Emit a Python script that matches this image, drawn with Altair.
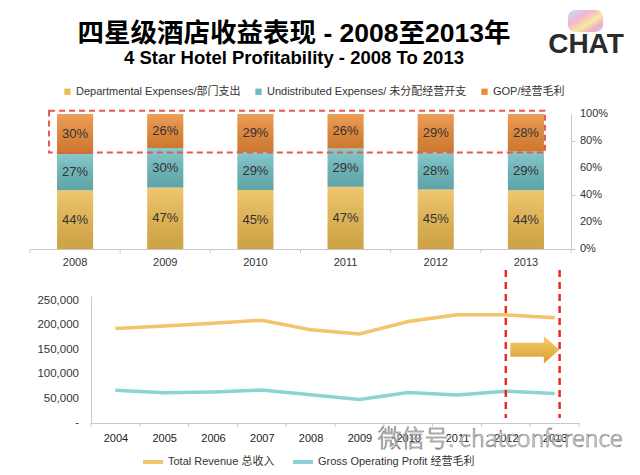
import altair as alt
import pandas as pd

FONT = "Liberation Sans, Noto Sans CJK SC, sans-serif"

# ---------------- data ----------------
title_main = "四星级酒店收益表现 - 2008至2013年"
title_sub = "4 Star Hotel Profitability - 2008 To 2013"
logo_text = "CHAT"
watermark_text = "微信号: chatconference"

years_top = ["2008", "2009", "2010", "2011", "2012", "2013"]
dept_pct = [44, 47, 45, 47, 45, 44]
undist_pct = [27, 30, 29, 29, 28, 29]
gop_pct = [30, 26, 29, 26, 29, 28]
series_top = ["Departmental Expenses/部门支出", "Undistributed Expenses/ 未分配经营开支", "GOP/经营毛利"]
colors_top = ["#EDBB50", "#6DBDC1", "#EC8A36"]

years_line = ["2004", "2005", "2006", "2007", "2008", "2009", "2010", "2011", "2012", "2013"]
revenue = [193500, 198700, 204000, 210400, 191000, 182400, 207800, 221500, 221500, 215700]
gop_value = [67000, 61700, 63700, 67600, 57800, 48000, 62400, 57200, 65000, 60400]
series_line = ["Total Revenue 总收入", "Gross Operating Profit 经营毛利"]
colors_line = ["#F2C46B", "#8CD3D5"]
y_ticks_line = [0, 50000, 100000, 150000, 200000, 250000]
y_ticks_top = [0, 0.2, 0.4, 0.6, 0.8, 1.0]

rows = []
for i, yr in enumerate(years_top):
    for k, vals in enumerate([dept_pct, undist_pct, gop_pct]):
        rows.append({"year": yr, "series": series_top[k], "order": k,
                     "value": vals[i], "label": f"{vals[i]}%"})
df_top = pd.DataFrame(rows)

rows = []
for k, vals in enumerate([revenue, gop_value]):
    for i, yr in enumerate(years_line):
        rows.append({"year": yr, "series": series_line[k], "value": vals[i]})
df_line = pd.DataFrame(rows)

df_years_top = pd.DataFrame({"year": years_top})
df_years_line = pd.DataFrame({"year": years_line})
df_box = pd.DataFrame({"a": [years_top[0]], "b": [years_top[-1]]})
df_ticks_top = pd.DataFrame({"v": y_ticks_top})
df_ticks_line = pd.DataFrame({"v": y_ticks_line})

TOP_W, TOP_H = 541, 135
BOT_LEFT = 61          # inner left margin of the lower panel
BOT_W, BOT_H = BOT_LEFT + 488, 127
step_top = TOP_W / len(years_top)
step_bot = (BOT_W - BOT_LEFT) / len(years_line)
half_bar = step_top * 0.4 / 2

# ---------------- top chart ----------------
base = alt.Chart(df_top).transform_stack(
    stack="value", groupby=["year"], as_=["y0", "y1"], offset="normalize",
    sort=[alt.SortField("order", order="ascending")]
).transform_calculate(mid="(datum.y0 + datum.y1) / 2")

x_top = alt.X("year:N", scale=alt.Scale(domain=years_top, paddingInner=0.6, paddingOuter=0.3),
              axis=alt.Axis(title=None, labelAngle=0, ticks=False, labelFontSize=11,
                            labelColor="#333", labelPadding=7, domainColor="#c8c8c8",
                            labelFont=FONT))
y_top = alt.Y("y0:Q", scale=alt.Scale(domain=[0, 1]),
              axis=alt.Axis(orient="right", values=y_ticks_top, labels=False, title=None,
                            grid=False, tickSize=4, tickColor="#c8c8c8", domainColor="#c8c8c8"))

bars = base.mark_bar().encode(
    x=x_top, y=y_top, y2="y1:Q",
    color=alt.Color("series:N", scale=alt.Scale(domain=series_top, range=colors_top),
                    legend=alt.Legend(title=None, orient="none", legendX=32, legendY=-28,
                                      direction="horizontal", symbolType="square",
                                      symbolSize=40, labelFontSize=11, labelFont=FONT,
                                      labelColor="#333", columnPadding=12, labelOffset=3,
                                      labelLimit=400)),
    order=alt.Order("order:Q"),
)

shade = alt.Gradient(gradient="linear", x1=0, y1=0, x2=0, y2=1, stops=[
    alt.GradientStop(color="rgba(255,255,255,0.18)", offset=0),
    alt.GradientStop(color="rgba(0,0,0,0.13)", offset=1),
])
overlay = base.mark_bar(color=shade).encode(x="year:N", y="y0:Q", y2="y1:Q")

labels = base.mark_text(fontSize=13, color="#333", font=FONT).encode(
    x="year:N", y="mid:Q", text="label:N")

top_ylabels = alt.Chart(df_ticks_top).mark_text(
    align="left", fontSize=11, color="#333", font=FONT).encode(
    x=alt.value(TOP_W + 9), y="v:Q", text=alt.Text("v:Q", format=".0%"))

box = alt.Chart(df_box).mark_rect(fillOpacity=0, stroke="#E25B4F", strokeWidth=2,
                                  strokeDash=[6, 4], xOffset=-(half_bar + 8),
                                  x2Offset=half_bar + 1).encode(
    x=alt.X("a:N", bandPosition=0.5), x2="b:N",
    y=alt.datum(0.714), y2=alt.datum(1.025))

ticks_top = alt.Chart(df_years_top).mark_rule(color="#c8c8c8", xOffset=-step_top / 2).encode(
    x="year:N", y=alt.value(TOP_H), y2=alt.value(TOP_H + 4))
ticks_top_end = alt.Chart(df_years_top).transform_filter(
    alt.datum.year == years_top[-1]).mark_rule(color="#c8c8c8", xOffset=step_top / 2).encode(
    x="year:N", y=alt.value(TOP_H), y2=alt.value(TOP_H + 4))

t1 = alt.Chart(pd.DataFrame({"t": [title_main]})).mark_text(
    fontSize=26.5, fontWeight="bold", font=FONT, color="#000", align="center").encode(
    x=alt.value(264), y=alt.value(-80), text="t:N")
t2 = alt.Chart(pd.DataFrame({"t": [title_sub]})).mark_text(
    fontSize=18.5, fontWeight="bold", font=FONT, color="#000", align="center").encode(
    x=alt.value(264), y=alt.value(-56), text="t:N")
bubble_grad = alt.Gradient(gradient="linear", x1=0, y1=0, x2=1, y2=1, stops=[
    alt.GradientStop(color="#9fdde3", offset=0),
    alt.GradientStop(color="#f39cc6", offset=0.35),
    alt.GradientStop(color="#f6e27a", offset=0.6),
    alt.GradientStop(color="#e98fc0", offset=0.8),
    alt.GradientStop(color="#a8d8e6", offset=1),
])
bubble = alt.Chart(pd.DataFrame({"t": [logo_text]})).mark_rect(
    color=bubble_grad, cornerRadius=7, opacity=0.75).encode(
    x=alt.value(538), x2=alt.value(573), y=alt.value(-104), y2=alt.value(-82))
chat = alt.Chart(pd.DataFrame({"t": [logo_text]})).mark_text(
    fontSize=28, fontWeight="bold", font=FONT, color="#2b2b2b", align="center").encode(
    x=alt.value(556), y=alt.value(-69), text="t:N")

top = alt.layer(bars, overlay, labels, top_ylabels, box, ticks_top, ticks_top_end,
                t1, t2, bubble, chat).properties(width=TOP_W, height=TOP_H)

# ---------------- bottom chart ----------------
x_bot = alt.X("year:N", scale=alt.Scale(type="point", domain=years_line, padding=0.5,
                                        range=[BOT_LEFT, BOT_W]),
              axis=alt.Axis(title=None, labelAngle=0, ticks=False, labelFontSize=11,
                            labelColor="#222", labelPadding=9, domainColor="#c8c8c8",
                            labelFont=FONT))
y_bot = alt.Y("value:Q", scale=alt.Scale(domain=[0, 250000]),
              axis=alt.Axis(title=None, values=y_ticks_line, offset=-BOT_LEFT, labels=False,
                            grid=False, ticks=False, domainColor="#c8c8c8"))

lines = alt.Chart(df_line).mark_line(strokeWidth=3.5).encode(
    x=x_bot, y=y_bot,
    stroke=alt.Stroke("series:N", scale=alt.Scale(domain=series_line, range=colors_line),
                      legend=alt.Legend(title=None, orient="none", legendX=BOT_LEFT + 50,
                                        legendY=154,
                                        direction="horizontal", symbolType="stroke",
                                        symbolSize=400, symbolStrokeWidth=4, labelFontSize=11,
                                        labelFont=FONT, labelColor="#333", columnPadding=10,
                                        labelOffset=3, labelLimit=400)),
)

bot_ylabels = alt.Chart(df_ticks_line).transform_calculate(
    lab="datum.v == 0 ? '-\u2007' : format(datum.v, ',')").mark_text(
    align="right", fontSize=11.5, color="#333", font=FONT).encode(
    x=alt.value(BOT_LEFT - 12), y="v:Q", text="lab:N")

ticks_bot = alt.Chart(df_years_line).mark_rule(color="#c8c8c8", xOffset=-step_bot / 2).encode(
    x="year:N", y=alt.value(BOT_H), y2=alt.value(BOT_H + 4))
ticks_bot_end = alt.Chart(df_years_line).transform_filter(
    alt.datum.year == years_line[-1]).mark_rule(color="#c8c8c8", xOffset=step_bot / 2).encode(
    x="year:N", y=alt.value(BOT_H), y2=alt.value(BOT_H + 4))

red1 = alt.Chart(df_years_line).transform_filter(alt.datum.year == years_line[-2]).mark_rule(
    color="#EE2A24", strokeWidth=2.5, strokeDash=[7, 5]).encode(
    x="year:N", y=alt.value(-26), y2=alt.value(BOT_H - 5))
red2 = alt.Chart(df_years_line).transform_filter(alt.datum.year == years_line[-1]).mark_rule(
    color="#EE2A24", strokeWidth=2.5, strokeDash=[7, 5], xOffset=5).encode(
    x="year:N", y=alt.value(-26), y2=alt.value(BOT_H - 5))

arrow_grad = alt.Gradient(gradient="linear", x1=0, y1=0, x2=0, y2=1, stops=[
    alt.GradientStop(color="#F6CF72", offset=0),
    alt.GradientStop(color="#D99E2C", offset=1),
])
arrow_path = "M-1,-0.29L0.37,-0.29L0.37,-0.56L1,0L0.37,0.56L0.37,0.29L-1,0.29Z"
arrow = alt.Chart(df_years_line).transform_filter(alt.datum.year == years_line[-2]).mark_point(
    shape=arrow_path, size=2400, filled=True, color=arrow_grad, opacity=1, xOffset=29).encode(
    x="year:N", y=alt.datum(150000))

wm = alt.Chart(pd.DataFrame({"t": [watermark_text]})).mark_text(
    fontSize=23.5, font="Noto Sans CJK SC, sans-serif", fontWeight=300, fill="#ffffff",
    stroke="#6b6b6b", strokeWidth=0.6, align="center").encode(
    x=alt.value(BOT_LEFT + 409), y=alt.value(144), text="t:N")

bottom = alt.layer(lines, bot_ylabels, ticks_bot, ticks_bot_end, red1, red2, arrow, wm).properties(
    width=BOT_W, height=BOT_H)

chart = alt.vconcat(top, bottom, spacing=47, bounds="flush").resolve_scale(
    x="independent", y="independent", color="independent", stroke="independent"
).properties(
    padding={"left": 21, "top": 2, "right": 0, "bottom": 0}, background="#ffffff"
).configure_view(strokeWidth=0)

chart.save("out.html", embed_options={"renderer": "svg", "actions": False})
